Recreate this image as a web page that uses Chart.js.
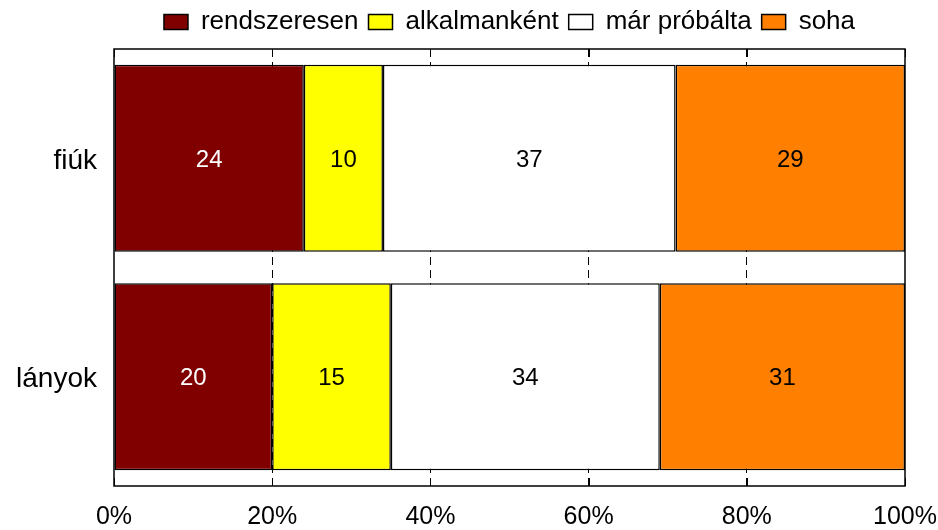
<!DOCTYPE html>
<html>
<head>
<meta charset="utf-8">
<script src="https://cdn.jsdelivr.net/npm/chart.js@4/dist/chart.umd.min.js"></script>
<style>
html,body{margin:0;padding:0;background:#fff;}
#wrap{width:938px;height:530px;position:relative;}
</style>
</head>
<body>
<div id="wrap"><canvas id="c" width="938" height="530"></canvas></div>
<script>
const categories = ['fiúk', 'lányok'];
const seriesNames = ['rendszeresen', 'alkalmanként', 'már próbálta', 'soha'];
const rendszeresen = [24, 20];
const alkalmankent = [10, 15];
const marProbalta = [37, 34];
const soha = [29, 31];
const xTickValues = [0, 20, 40, 60, 80, 100];

const colors = ['#800000', '#ffff00', '#ffffff', '#ff8000'];
const labelColors = ['#ffffff', '#000000', '#000000', '#000000'];
const FONT = "'Liberation Sans', Arial, sans-serif";

const valueLabels = {
  id: 'valueLabels',
  afterDatasetsDraw(chart) {
    const ctx = chart.ctx;
    ctx.save();
    ctx.font = '24px ' + FONT;
    ctx.textAlign = 'center';
    ctx.textBaseline = 'middle';
    chart.data.datasets.forEach((ds, di) => {
      const meta = chart.getDatasetMeta(di);
      meta.data.forEach((bar, i) => {
        const x = (bar.x + bar.base) / 2;
        ctx.fillStyle = labelColors[di];
        ctx.fillText(String(ds.data[i]), x, bar.y + 2);
      });
    });
    ctx.restore();
  }
};

const frame = {
  id: 'frame',
  afterDatasetsDraw(chart) {
    const ctx = chart.ctx;
    const a = chart.chartArea;
    const xs = chart.scales.x;
    ctx.save();
    ctx.strokeStyle = '#000';
    ctx.lineWidth = 1.5;
    ctx.strokeRect(a.left, a.top, a.right - a.left, a.bottom - a.top);
    ctx.lineWidth = 1;
    xTickValues.forEach(v => {
      const px = Math.round(xs.getPixelForValue(v)) + 0.5;
      ctx.beginPath();
      ctx.moveTo(px, a.bottom);
      ctx.lineTo(px, a.bottom - 8);
      ctx.moveTo(px, a.top);
      ctx.lineTo(px, a.top + 8);
      ctx.stroke();
    });
    ctx.restore();
  }
};

const seriesData = [rendszeresen, alkalmankent, marProbalta, soha];

new Chart(document.getElementById('c'), {
  type: 'bar',
  data: {
    labels: categories,
    datasets: seriesNames.map((name, i) => ({
      label: name,
      data: seriesData[i],
      backgroundColor: colors[i],
      borderColor: '#000',
      borderWidth: 1.5,
      borderSkipped: false,
      categoryPercentage: 1,
      barPercentage: 0.855
    }))
  },
  options: {
    indexAxis: 'y',
    responsive: false,
    animation: false,
    layout: { padding: { top: -1, right: 33, left: 0, bottom: 0 } },
    plugins: {
      legend: {
        position: 'top',
        fullSize: false,
        labels: {
          boxWidth: 24,
          boxHeight: 15,
          padding: 10,
          color: '#000',
          font: { family: FONT, size: 26 },
          useBorderRadius: false
        }
      },
      tooltip: { enabled: false }
    },
    scales: {
      x: {
        stacked: true,
        min: 0,
        max: 100,
        afterFit(s) { s.height = 44; s.paddingLeft = 0; s.paddingRight = 0; },
        afterBuildTicks(s) { s.ticks = xTickValues.map(v => ({ value: v })); },
        ticks: {
          color: '#000',
          font: { family: FONT, size: 25 },
          padding: 16,
          maxRotation: 0,
          callback: v => v + '%'
        },
        grid: {
          drawTicks: false,
          color: ctx => (ctx.tick && (ctx.tick.value === 0 || ctx.tick.value === 100)) ? 'rgba(0,0,0,0)' : '#000',
          lineWidth: 1
        },
        border: { display: false, dash: [8, 5] }
      },
      x2: {
        position: 'top',
        min: 0,
        max: 100,
        afterFit(s) { s.height = 4; s.paddingLeft = 0; s.paddingRight = 0; },
        ticks: { display: false },
        grid: { display: false, drawTicks: false },
        border: { display: false }
      },
      y: {
        stacked: true,
        afterFit(s) { s.width = 114; },
        ticks: {
          color: '#000',
          font: { family: FONT, size: 28 },
          padding: 17,
          labelOffset: 3
        },
        grid: { display: false, drawTicks: false },
        border: { display: false }
      }
    }
  },
  plugins: [valueLabels, frame]
});
</script>
</body>
</html>
